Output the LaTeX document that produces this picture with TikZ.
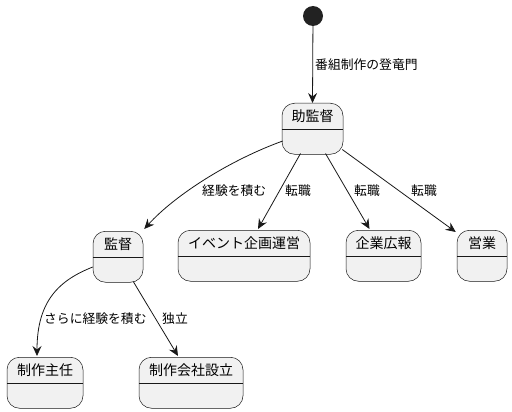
\documentclass[tikz,border=0pt]{standalone}
\usepackage{fontspec}
\setmainfont{Noto Sans CJK JP}
\usetikzlibrary{calc,arrows.meta}
\definecolor{stfill}{HTML}{F1F1F1}
\definecolor{stline}{HTML}{181818}
\definecolor{startc}{HTML}{222222}
\tikzset{
  x=1pt,y=-1pt,
  statebox/.style={draw=stline,fill=stfill,line width=0.5pt,rounded corners=12.5pt,minimum height=51pt,inner sep=0pt},
  stitle/.style={font=\fontsize{14}{16}\selectfont,text=black,inner sep=0pt},
  elabel/.style={font=\fontsize{12.8}{15}\selectfont,text=black,anchor=west,inner sep=0pt},
  edge/.style={draw=stline,line width=0.8pt,-{Stealth[length=10pt,width=9pt,inset=3.5pt]}},
  divline/.style={draw=stline,line width=0.5pt}
}
\newcommand{\mystate}[5]{% name, x, y(top), width, title
  \node[statebox,minimum width=#4,anchor=north] (#1) at (#2,#3) {};
  \node[stitle] (#1t) at ($(#1.north)+(0,13)$) {#5};
  \draw[divline] ($(#1.north west)+(0,26)$) -- ($(#1.north east)+(0,26)$);
}
\begin{document}
\begin{tikzpicture}
\useasboundingbox (0,0) rectangle (512,412);
\node[circle,fill=startc,minimum size=20pt,inner sep=0pt] (start) at (313,16) {};
\mystate{ajd}{312.5}{103}{61pt}{助監督}
\mystate{kan}{118}{231}{50pt}{監督}
\mystate{evt}{244}{230}{132pt}{イベント企画運営}
\mystate{kgk}{383.5}{230}{75pt}{企業広報}
\mystate{eig}{482}{230}{50pt}{営業}
\mystate{shn}{45}{357}{76pt}{制作主任}
\mystate{kai}{191}{357}{104pt}{制作会社設立}

\draw[edge] (start) -- (ajd.north);
\draw[edge] ($(ajd.north west)+(1,38)$) .. controls (230,160) and (175,195) .. ($(kan.north east)+(1,-2)$);
\draw[edge] ($(ajd.south)+(-12,-1)$) -- ($(evt.north)+(14,-1)$);
\draw[edge] ($(ajd.south)+(13,-1)$) -- ($(kgk.north)+(-14,-1)$);
\draw[edge] ($(ajd.south east)+(-1,-5)$) -- ($(eig.north west)+(-1,2)$);
\draw[edge] ($(kan.north west)+(0,36)$) .. controls (60,280) and (37,300) .. ($(shn.north)+(-8,-1)$);
\draw[edge] ($(kan.south east)+(-10,-1)$) -- ($(kai.north)+(-13,-1)$);

\node[elabel] (l0) at (315,65) {番組制作の登竜門};
\node[elabel] (l1) at (202,191) {経験を積む};
\node[elabel] (l2) at (285,191) {転職};
\node[elabel] (l3) at (354,191) {転職};
\node[elabel] (l4) at (411,191) {転職};
\node[elabel] (l5) at (44,319) {さらに経験を積む};
\node[elabel] (l6) at (162,319) {独立};
\end{tikzpicture}
\end{document}
